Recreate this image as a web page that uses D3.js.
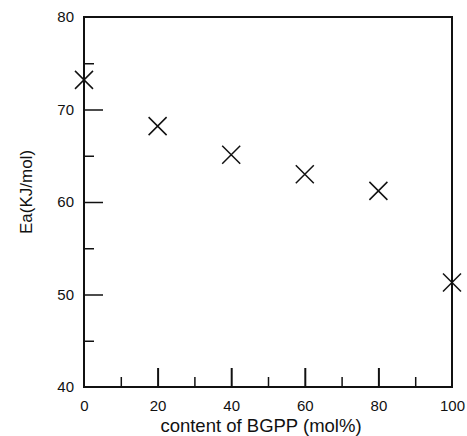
<!DOCTYPE html>
<html>
<head>
  <meta charset="utf-8">
  <title>Ea vs BGPP content</title>
  <script src="https://d3js.org/d3.v7.min.js"></script>
  <style>
    body { margin: 0; background: #fff; }
    text { font-family: "Liberation Sans", Arial, sans-serif; fill: #111; }
  </style>
</head>
<body>
  <script>
      var w = 467, h = 436;
      var content = [0, 20, 40, 60, 80, 100];
      var ea = [73.2, 68.2, 65.1, 63.0, 61.2, 51.3];
      var xTicks = [0, 20, 40, 60, 80, 100];
      var xMinor = [10, 30, 50, 70, 90];
      var yTicks = [40, 50, 60, 70, 80];
      var yMinor = [45, 55, 65, 75];

      var pLeft = 84, pRight = 452, pTop = 17, pBottom = 387;

      var svg = d3.select("body").append("svg")
                  .attr("width", w).attr("height", h);

      var x = d3.scaleLinear().domain([0, 100]).range([pLeft, pRight]);
      var y = d3.scaleLinear().domain([40, 80]).range([pBottom, pTop]);

      // frame
      svg.append("rect")
         .attr("x", pLeft).attr("y", pTop)
         .attr("width", pRight - pLeft).attr("height", pBottom - pTop)
         .attr("fill", "none").attr("stroke", "#111").attr("stroke-width", 2);

      // x ticks (inward, drawn up from bottom)
      svg.append("g").attr("transform", "translate(0," + pBottom + ")")
         .call(d3.axisTop(x).tickValues(xTicks.filter(function(d){ return d > 0 && d < 100; }))
               .tickSize(19).tickFormat(""))
         .call(function(g){ g.select(".domain").remove(); })
         .selectAll("line").attr("stroke", "#111").attr("stroke-width", 2);
      svg.append("g").attr("transform", "translate(0," + pBottom + ")")
         .call(d3.axisTop(x).tickValues(xMinor).tickSize(10).tickFormat(""))
         .call(function(g){ g.select(".domain").remove(); })
         .selectAll("line").attr("stroke", "#111").attr("stroke-width", 1.5);
      // x labels
      svg.append("g").attr("transform", "translate(0," + pBottom + ")")
         .call(d3.axisBottom(x).tickValues(xTicks).tickSize(0).tickPadding(13))
         .call(function(g){
           g.select(".domain").remove();
           g.selectAll("text").attr("font-size", 15)
            .attr("font-family", "'Liberation Sans', Arial, sans-serif").attr("fill", "#111");
         });

      // y ticks (inward)
      svg.append("g").attr("transform", "translate(" + pLeft + ",0)")
         .call(d3.axisRight(y).tickValues(yTicks.filter(function(d){ return d > 40 && d < 80; }))
               .tickSize(19).tickFormat(""))
         .call(function(g){ g.select(".domain").remove(); })
         .selectAll("line").attr("stroke", "#111").attr("stroke-width", 1.5);
      svg.append("g").attr("transform", "translate(" + pLeft + ",0)")
         .call(d3.axisRight(y).tickValues(yMinor).tickSize(10).tickFormat(""))
         .call(function(g){ g.select(".domain").remove(); })
         .selectAll("line").attr("stroke", "#111").attr("stroke-width", 1.5);
      // y labels
      svg.append("g").attr("transform", "translate(" + pLeft + ",0)")
         .call(d3.axisLeft(y).tickValues(yTicks).tickSize(0).tickPadding(10))
         .call(function(g){
           g.select(".domain").remove();
           g.selectAll("text").attr("font-size", 15)
            .attr("font-family", "'Liberation Sans', Arial, sans-serif").attr("fill", "#111");
         });

      // axis titles
      svg.append("text")
         .attr("x", 261).attr("y", 432)
         .attr("text-anchor", "middle").attr("font-size", 18.5)
         .text("content of BGPP (mol%)");
      svg.append("text")
         .attr("transform", "translate(32,192) rotate(-90)")
         .attr("text-anchor", "middle").attr("font-size", 17)
         .text("Ea(KJ/mol)");

      // cross markers
      var s = 9;
      svg.append("g").selectAll("path")
         .data(content.map(function(d, i){ return [d, ea[i]]; }))
         .enter().append("path")
         .attr("d", function(d){
           var cx = x(d[0]), cy = y(d[1]);
           return "M" + (cx - s) + "," + (cy - s) + "L" + (cx + s) + "," + (cy + s) +
                  "M" + (cx - s) + "," + (cy + s) + "L" + (cx + s) + "," + (cy - s);
         })
         .attr("stroke", "#111").attr("stroke-width", 1.5).attr("fill", "none");
  </script>
</body>
</html>
